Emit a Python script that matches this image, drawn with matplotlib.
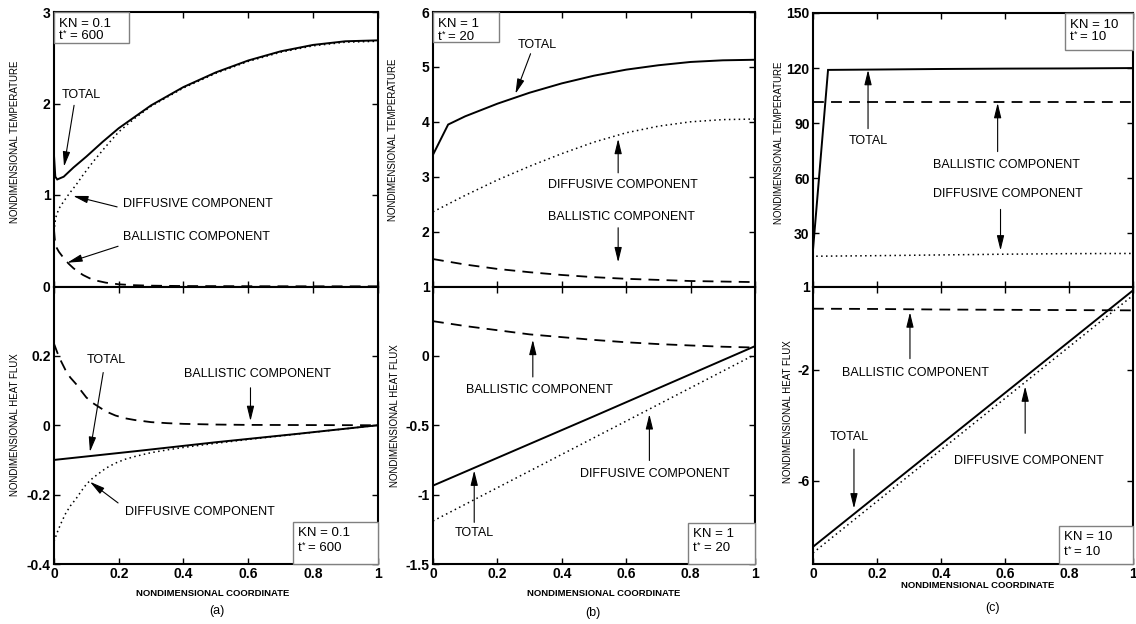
import matplotlib
matplotlib.use("Agg")
import matplotlib.pyplot as plt
from matplotlib.patches import Rectangle

plt.rcParams['font.family'] = ['Liberation Sans', 'DejaVu Sans']
plt.rcParams['axes.unicode_minus'] = False

# ---------------- (a) KN = 0.1, t* = 600 ----------------
a_temp_total_x = [0, 0.004, 0.01, 0.03, 0.06, 0.1, 0.15, 0.2, 0.3, 0.4, 0.5, 0.6, 0.7, 0.8, 0.9, 1.0]
a_temp_total = [1.43, 1.20, 1.17, 1.20, 1.30, 1.42, 1.58, 1.73, 1.98, 2.18, 2.34, 2.47, 2.57, 2.64, 2.68, 2.69]
a_temp_diff_x = [0, 0.005, 0.015, 0.03, 0.046, 0.07, 0.09, 0.12, 0.16, 0.2, 0.25, 0.3, 0.4, 0.5, 0.6, 0.7, 0.8, 0.9, 1.0]
a_temp_diff = [0.60, 0.75, 0.85, 0.93, 1.01, 1.12, 1.22, 1.36, 1.53, 1.69, 1.84, 1.97, 2.17, 2.33, 2.46, 2.56, 2.63, 2.67, 2.68]
a_temp_ball_x = [0, 0.004, 0.015, 0.03, 0.045, 0.06, 0.075, 0.09, 0.11, 0.13, 0.16, 0.2, 0.25, 0.3, 0.4, 0.6, 0.8, 1.0]
a_temp_ball = [0.62, 0.45, 0.38, 0.31, 0.25, 0.20, 0.16, 0.125, 0.09, 0.065, 0.042, 0.024, 0.014, 0.009, 0.005, 0.003, 0.002, 0.002]

a_flux_total_x = [0, 0.25, 0.5, 0.75, 1.0]
a_flux_total = [-0.10, -0.075, -0.049, -0.025, 0.0]
a_flux_diff_x = [0, 0.01, 0.02, 0.035, 0.05, 0.068, 0.085, 0.1, 0.12, 0.14, 0.16, 0.19, 0.22, 0.25, 0.3, 0.35, 0.4, 0.5, 0.6, 0.8, 1.0]
a_flux_diff = [-0.335, -0.309, -0.286, -0.256, -0.233, -0.212, -0.189, -0.170, -0.152, -0.138, -0.124, -0.109, -0.098, -0.090, -0.079, -0.071, -0.064, -0.052, -0.041, -0.0205, 0.0]
a_flux_ball_x = [0, 0.01, 0.02, 0.035, 0.05, 0.068, 0.085, 0.1, 0.12, 0.14, 0.16, 0.19, 0.22, 0.25, 0.3, 0.35, 0.4, 0.5, 0.6, 0.8, 1.0]
a_flux_ball = [0.235, 0.21, 0.188, 0.16, 0.138, 0.119, 0.098, 0.08, 0.064, 0.052, 0.04, 0.028, 0.02, 0.015, 0.009, 0.006, 0.004, 0.002, 0.001, 0.0005, 0.0]

# ---------------- (b) KN = 1, t* = 20 ----------------
b_temp_total_x = [0, 0.047, 0.1, 0.2, 0.3, 0.4, 0.5, 0.6, 0.7, 0.8, 0.9, 1.0]
b_temp_total = [3.40, 3.95, 4.10, 4.33, 4.53, 4.70, 4.84, 4.95, 5.03, 5.09, 5.12, 5.13]
b_temp_diff_x = [0, 0.1, 0.2, 0.3, 0.4, 0.5, 0.6, 0.7, 0.8, 0.9, 1.0]
b_temp_diff = [2.36, 2.66, 2.94, 3.19, 3.42, 3.63, 3.80, 3.92, 4.00, 4.04, 4.05]
b_temp_ball_x = [0, 0.1, 0.2, 0.3, 0.4, 0.5, 0.6, 0.7, 0.8, 0.9, 1.0]
b_temp_ball = [1.50, 1.40, 1.32, 1.26, 1.21, 1.17, 1.14, 1.12, 1.10, 1.09, 1.08]

b_flux_total_x = [0, 0.5, 1.0]
b_flux_total = [-0.935, -0.435, 0.07]
b_flux_diff_x = [0, 0.5, 1.0]
b_flux_diff = [-1.19, -0.59, 0.01]
b_flux_ball_x = [0, 0.1, 0.2, 0.3, 0.4, 0.5, 0.6, 0.7, 0.8, 0.9, 1.0]
b_flux_ball = [0.25, 0.215, 0.185, 0.155, 0.135, 0.115, 0.098, 0.085, 0.075, 0.066, 0.06]

# ---------------- (c) KN = 10, t* = 10 ----------------
c_temp_total_x = [0, 0.047, 0.2, 0.4, 0.6, 0.8, 1.0]
c_temp_total = [21.0, 119.0, 119.2, 119.5, 119.7, 119.8, 120.0]
c_temp_diff_x = [0.01, 0.2, 0.4, 0.6, 0.8, 1.0]
c_temp_diff = [17.5, 17.8, 18.2, 18.6, 18.9, 19.0]
c_temp_ball_x = [0, 0.5, 1.0]
c_temp_ball = [101.3, 101.3, 101.3]

c_flux_total_x = [0, 0.5, 1.0]
c_flux_total = [-8.38, -3.76, 0.86]
c_flux_diff_x = [0, 0.5, 1.0]
c_flux_diff = [-8.60, -3.96, 0.68]
c_flux_ball_x = [0, 0.2, 0.4, 0.6, 0.8, 1.0]
c_flux_ball = [0.20, 0.19, 0.17, 0.16, 0.15, 0.14]

x_ticks = [0, 0.2, 0.4, 0.6, 0.8, 1]
x_tick_labels = ['0', '0.2', '0.4', '0.6', '0.8', '1']

W, H = 1136, 624
fig = plt.figure(figsize=(W / 100, H / 100), dpi=100)


def px_axes(l, t, r, b):
    return fig.add_axes([l / W, 1 - b / H, (r - l) / W, (b - t) / H])


def style(ax, yticks, ylabels, ylim, xlabels=False):
    ax.set_xlim(0, 1)
    ax.set_ylim(*ylim)
    ax.set_xticks(x_ticks)
    ax.set_yticks(yticks)
    ax.set_yticklabels(ylabels)
    if xlabels:
        ax.set_xticklabels(x_tick_labels)
    else:
        ax.set_xticklabels([])
    ax.tick_params(direction='in', length=4, width=1.0, top=True, right=True,
                   labelsize=10, pad=2.5)
    for lab in ax.get_xticklabels() + ax.get_yticklabels():
        lab.set_fontweight('bold')
    for sp in ax.spines.values():
        sp.set_linewidth(1.5)


def curves(ax, tx, ty, dx, dy, bx, by):
    ax.plot(tx, ty, color='k', lw=1.4, ls='-', solid_joinstyle='miter')
    ax.plot(dx, dy, color='k', lw=1.1, ls=(0, (1, 2.2)))
    ax.plot(bx, by, color='k', lw=1.3, ls=(0, (6, 4)))


def note(ax, text, tpos, tail, tip):
    ax.text(tpos[0], tpos[1], text, fontsize=9, ha='left', va='center')
    ax.annotate('', xy=tip, xytext=tail,
                arrowprops=dict(arrowstyle='-|>,head_length=0.9,head_width=0.22',
                                color='k', lw=0.8, shrinkA=0, shrinkB=0,
                                mutation_scale=10))


def kn_box(l, t, r, b, kn, ts, y1, y2):
    fig.patches.append(Rectangle((l / W, 1 - b / H), (r - l) / W, (b - t) / H,
                                 transform=fig.transFigure, fill=True,
                                 facecolor='white', edgecolor='#808080', lw=1.0,
                                 zorder=5))
    x0 = l + 5
    fig.text(x0 / W, 1 - y1 / H, 'KN = %s' % kn, fontsize=9.5,
             va='center', ha='left', zorder=6)
    fig.text(x0 / W, 1 - y2 / H, 't', fontsize=9.5, va='center', ha='left', zorder=6)
    fig.text((x0 + 3.6) / W, 1 - (y2 - 3) / H, '*', fontsize=6.5,
             va='center', ha='left', zorder=6)
    fig.text((x0 + 10.5) / W, 1 - y2 / H, '= %s' % ts, fontsize=9.5,
             va='center', ha='left', zorder=6)


def ylab(x, y, s):
    fig.text(x / W, 1 - y / H, s, rotation=90, fontsize=7, ha='center', va='center')


# ---------- panel (a) ----------
axa1 = px_axes(54, 12, 377.7, 286.5)
curves(axa1, a_temp_total_x, a_temp_total, a_temp_diff_x, a_temp_diff, a_temp_ball_x, a_temp_ball)
style(axa1, [0, 1, 2, 3], ['0', '1', '2', '3'], (0, 3))
note(axa1, 'TOTAL', (0.025, 2.09), (0.062, 1.98), (0.031, 1.31))
note(axa1, 'DIFFUSIVE COMPONENT', (0.214, 0.90), (0.195, 0.87), (0.059, 0.99))
note(axa1, 'BALLISTIC COMPONENT', (0.214, 0.54), (0.198, 0.44), (0.041, 0.26))

axa2 = px_axes(54, 286.5, 377.7, 564)
curves(axa2, a_flux_total_x, a_flux_total, a_flux_diff_x, a_flux_diff, a_flux_ball_x, a_flux_ball)
style(axa2, [-0.4, -0.2, 0, 0.2], ['-0.4', '-0.2', '0', '0.2'], (-0.4, 0.4), xlabels=True)
note(axa2, 'TOTAL', (0.102, 0.189), (0.152, 0.152), (0.111, -0.077))
note(axa2, 'BALLISTIC COMPONENT', (0.402, 0.149), (0.607, 0.108), (0.607, 0.012))
note(axa2, 'DIFFUSIVE COMPONENT', (0.22, -0.25), (0.198, -0.224), (0.111, -0.163))

# ---------- panel (b) ----------
axb1 = px_axes(433, 12, 755, 286.5)
curves(axb1, b_temp_total_x, b_temp_total, b_temp_diff_x, b_temp_diff, b_temp_ball_x, b_temp_ball)
style(axb1, [1, 2, 3, 4, 5, 6], ['1', '2', '3', '4', '5', '6'], (1, 6))
note(axb1, 'TOTAL', (0.263, 5.40), (0.303, 5.24), (0.256, 4.51))
note(axb1, 'DIFFUSIVE COMPONENT', (0.356, 2.84), (0.575, 3.07), (0.575, 3.69))
note(axb1, 'BALLISTIC COMPONENT', (0.356, 2.27), (0.575, 2.07), (0.575, 1.44))

axb2 = px_axes(433, 286.5, 755, 564)
curves(axb2, b_flux_total_x, b_flux_total, b_flux_diff_x, b_flux_diff, b_flux_ball_x, b_flux_ball)
style(axb2, [-1.5, -1, -0.5, 0], ['-1.5', '-1', '-0.5', '0'], (-1.5, 0.5), xlabels=True)
note(axb2, 'BALLISTIC COMPONENT', (0.103, -0.246), (0.31, -0.152), (0.31, 0.116))
note(axb2, 'DIFFUSIVE COMPONENT', (0.456, -0.848), (0.672, -0.754), (0.672, -0.42))
note(axb2, 'TOTAL', (0.066, -1.28), (0.128, -1.20), (0.128, -0.826))

# ---------- panel (c) ----------
axc1 = px_axes(813, 13, 1133, 286.5)
curves(axc1, c_temp_total_x, c_temp_total, c_temp_diff_x, c_temp_diff, c_temp_ball_x, c_temp_ball)
style(axc1, [1, 30, 60, 90, 120, 150], ['1', '30', '60', '90', '120', '150'], (1, 150))
note(axc1, 'TOTAL', (0.113, 80), (0.172, 87), (0.172, 119.0))
note(axc1, 'BALLISTIC COMPONENT', (0.376, 67), (0.577, 74.5), (0.577, 101))
note(axc1, 'DIFFUSIVE COMPONENT', (0.376, 51.4), (0.586, 43), (0.586, 20.6))

axc2 = px_axes(813, 286.5, 1133, 564)
curves(axc2, c_flux_total_x, c_flux_total, c_flux_diff_x, c_flux_diff, c_flux_ball_x, c_flux_ball)
style(axc2, [-6, -2], ['-6', '-2'], (-9, 1), xlabels=True)
note(axc2, 'BALLISTIC COMPONENT', (0.09, -2.1), (0.303, -1.6), (0.303, 0.07))
note(axc2, 'TOTAL', (0.053, -4.43), (0.128, -4.86), (0.128, -7.0))
note(axc2, 'DIFFUSIVE COMPONENT', (0.44, -5.29), (0.663, -4.29), (0.663, -2.6))

# ---------- parameter boxes ----------
kn_box(54, 12, 129, 43, '0.1', '600', 24, 36)
kn_box(293, 522, 377.7, 564, '0.1', '600', 533, 548)
kn_box(433, 12, 499, 42, '1', '20', 24, 37)
kn_box(688, 523, 755, 564, '1', '20', 534, 548)
kn_box(1065, 13, 1133, 50, '10', '10', 25, 37)
kn_box(1059, 526, 1133, 564, '10', '10', 537, 552)

# ---------- axis titles ----------
ylab(15, 142, 'NONDIMENSIONAL TEMPERATURE')
ylab(15, 425, 'NONDIMENSIONAL HEAT FLUX')
ylab(393, 140, 'NONDIMENSIONAL TEMPERATURE')
ylab(395, 416, 'NONDIMENSIONAL HEAT FLUX')
ylab(779, 143, 'NONDIMENSIONAL TEMPERATURE')
ylab(788, 412, 'NONDIMENSIONAL HEAT FLUX')

for cx, cy, s in [(213, 593, 'NONDIMENSIONAL COORDINATE'),
                  (604, 593, 'NONDIMENSIONAL COORDINATE'),
                  (978, 585, 'NONDIMENSIONAL COORDINATE')]:
    fig.text(cx / W, 1 - cy / H, s, fontsize=6.8, fontweight='bold', ha='center', va='center')
for cx, cy, s in [(217, 611, '(a)'), (593, 613, '(b)'), (993, 608, '(c)')]:
    fig.text(cx / W, 1 - cy / H, s, fontsize=9, ha='center', va='center')

fig.savefig('out.png', dpi=100)
